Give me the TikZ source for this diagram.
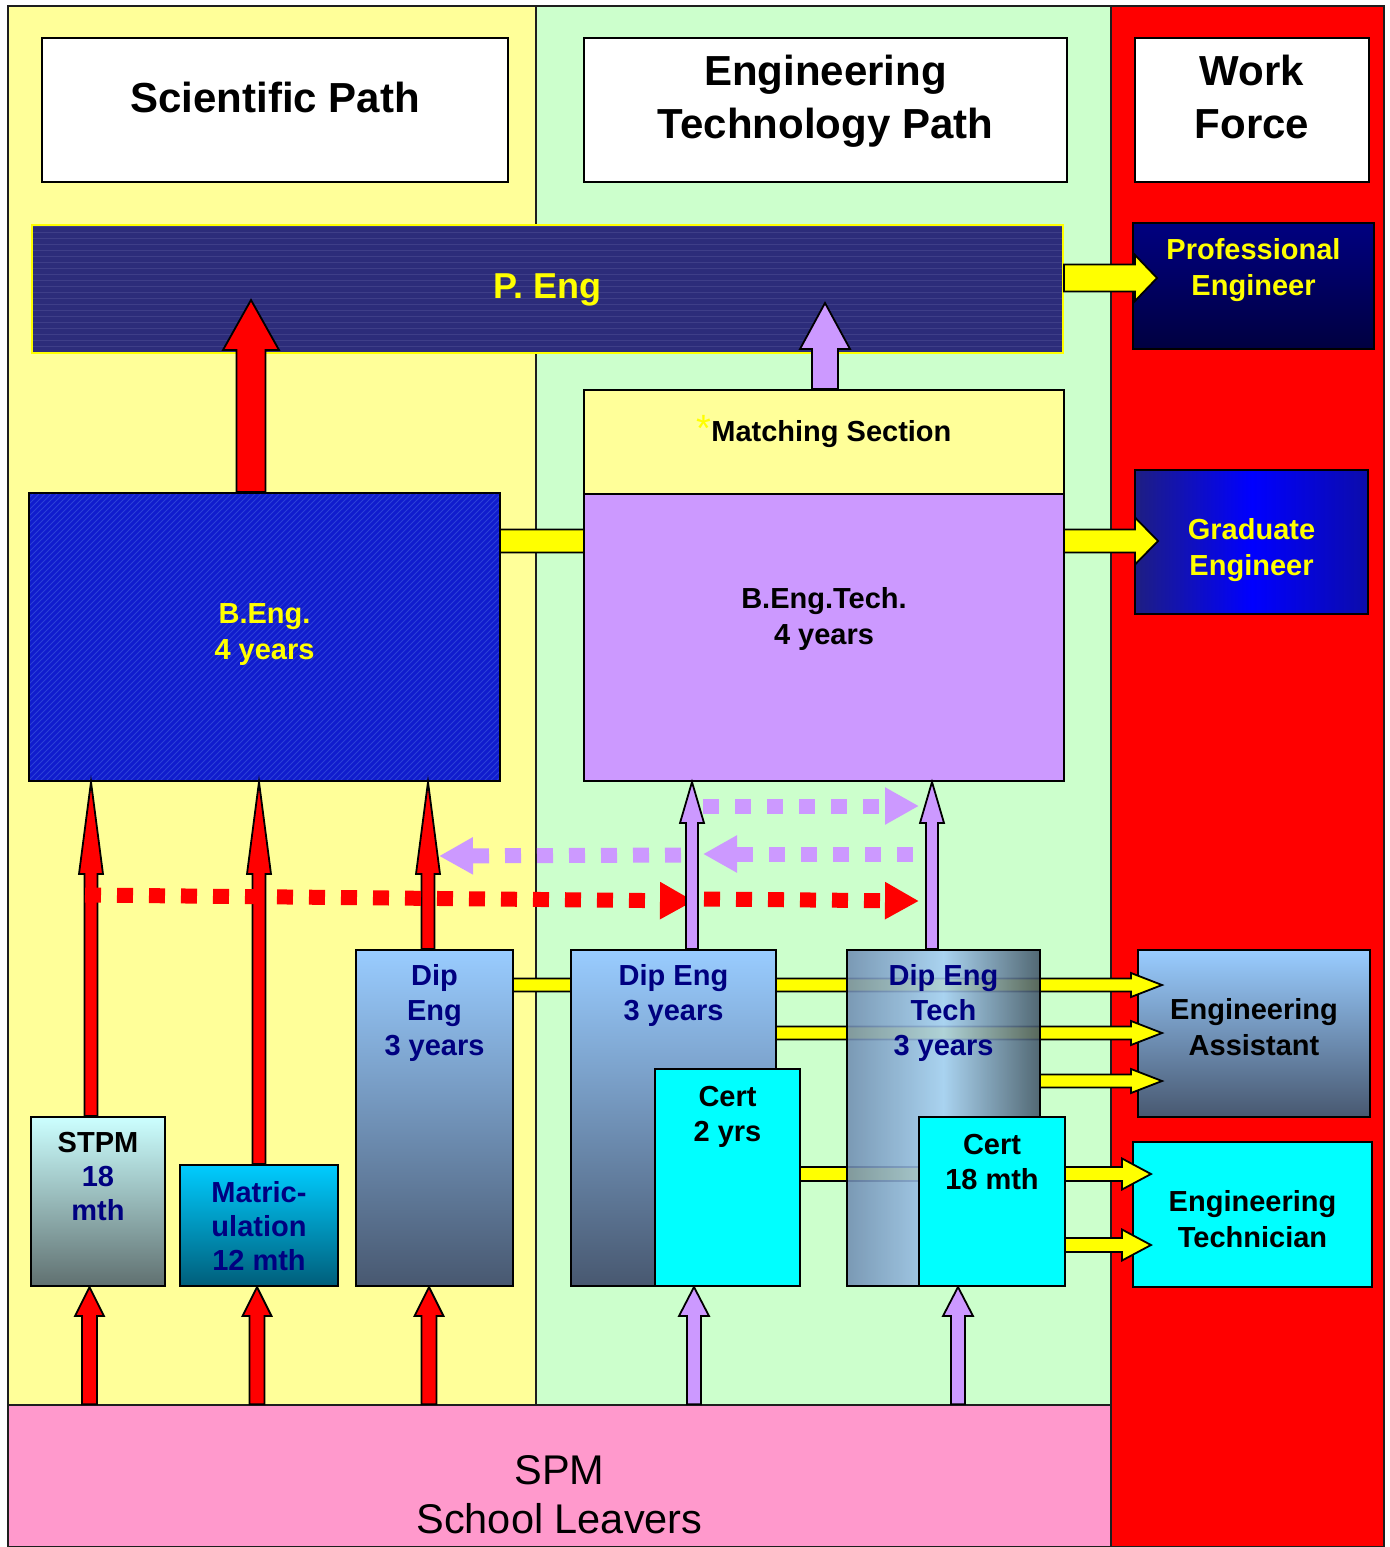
\documentclass[tikz,border=0pt]{standalone}
\usepackage{fontspec}
\setmainfont{Liberation Sans}
\usetikzlibrary{positioning,fit,calc,arrows.meta,patterns}

\definecolor{sciyellow}{RGB}{255,255,153}
\definecolor{techgreen}{RGB}{204,255,204}
\definecolor{workred}{RGB}{255,0,0}
\definecolor{spmpink}{RGB}{255,153,204}
\definecolor{lavender}{RGB}{204,153,255}
\definecolor{pengblue}{RGB}{44,44,122}
\definecolor{pengline}{RGB}{62,62,136}
\definecolor{bengblue}{RGB}{16,28,205}
\definecolor{benghatch}{RGB}{44,64,215}
\definecolor{navytext}{RGB}{0,0,128}
\definecolor{diptop}{RGB}{153,204,255}
\definecolor{dipbot}{RGB}{72,88,112}
\definecolor{certcyan}{RGB}{0,255,255}
\definecolor{arryellow}{RGB}{255,255,0}
\definecolor{outline}{RGB}{30,30,30}
\definecolor{gradedge}{RGB}{30,30,130}

\tikzset{
  colline/.style={draw=outline, line width=0.75pt},
  box/.style={draw=black, line width=1pt, inner sep=0pt},
  title/.style={font=\fontsize{21}{26.5}\selectfont\bfseries, align=center, inner sep=0pt},
  lbl/.style={font=\fontsize{14.5}{18}\selectfont\bfseries, align=center, inner sep=0pt},
  toplbl/.style={font=\fontsize{14.5}{17.5}\selectfont\bfseries, align=center, inner sep=0pt},
  yarr/.style={draw=black, line width=0.9pt, fill=arryellow},
  rarr/.style={draw=black, line width=0.9pt, fill=red},
  parr/.style={draw=black, line width=0.9pt, fill=lavender},
  dotarr/.style={line width=7.5pt, dash pattern=on 8pt off 8pt, -{Triangle[length=17pt,width=17.5pt]}},
}

% block arrow pointing up: style, foot, tip, half shaft, half head, head length (pt)
\newcommand{\uparrblk}[6]{%
  \draw[#1] let \p1=#2, \p2=#3 in
    (\x1-#4pt,\y1) -- (\x1-#4pt,\y2-#6pt) -- (\x1-#5pt,\y2-#6pt) -- (\x1,\y2)
    -- (\x1+#5pt,\y2-#6pt) -- (\x1+#4pt,\y2-#6pt) -- (\x1+#4pt,\y1) -- cycle;}
% block arrow pointing right: style, foot, tip, half shaft, half head, head length (pt)
\newcommand{\rightarrblk}[6]{%
  \draw[#1] let \p1=#2, \p2=#3 in
    (\x1,\y1+#4pt) -- (\x2-#6pt,\y1+#4pt) -- (\x2-#6pt,\y1+#5pt) -- (\x2,\y1)
    -- (\x2-#6pt,\y1-#5pt) -- (\x2-#6pt,\y1-#4pt) -- (\x1,\y1-#4pt) -- cycle;}

\begin{document}
\begin{tikzpicture}[x=0.5pt,y=-0.5pt]
\useasboundingbox[fill=white] (0,0) rectangle (1389,1547);

%Shape: Rectangle [columns]
\draw[colline, fill=sciyellow] (8,6) rectangle (536,1405);
\draw[colline, fill=techgreen] (536,6) rectangle (1111,1405);
\draw[colline, fill=workred] (1111,6) rectangle (1384,1547);
\node[colline, fill=spmpink, inner sep=0pt, fit={(8,1405) (1111,1547)}] (spm) {};

%Shape: Rectangle [headers]
\node[box, fill=white, fit={(42,38) (508,182)}] (scipath) {};
\node[box, fill=white, fit={(584,38) (1067,182)}] (techpath) {};
\node[box, fill=white, fit={(1135,38) (1369,182)}] (workforce) {};

%Shape: Rectangle [top row]
\node[draw=arryellow, line width=1pt, inner sep=0pt, preaction={fill=pengblue},
  pattern=horizontal lines, pattern color=pengline, fit={(32,225) (1063,353)}] (peng) {};
\node[box, top color=navytext, bottom color={rgb,255:red,0;green,0;blue,64},
  fit={(1133,223) (1374,349)}] (prof) {};
\node[box, left color=gradedge, right color={rgb,255:red,12;green,12;blue,170}, middle color=blue,
  fit={(1135,470) (1368,614)}] (grad) {};
\node[box, top color=diptop, bottom color=dipbot, fit={(1138,950) (1370,1117)}] (assist) {};
\node[box, fill=certcyan, fit={(1133,1142) (1372,1287)}] (technician) {};

%Straight Lines [yellow connectors, behind the boxes]
\rightarrblk{yarr}{($(peng.east)+(0,-11)$)}{($(prof.west)+(25,0)$)}{6.75}{11.5}{11}
\coordinate (beng-ne) at (500,493);
\rightarrblk{yarr}{($(beng-ne)+(0,48)$)}{($(grad.west)+(24,0)$)}{5.75}{11.75}{11.5}
\coordinate (dipA-ne) at (513,950);
\coordinate (dipB-ne) at (776,950);
\coordinate (dipT-ne) at (1040,950);
\coordinate (certA-ne) at (800,1069);
\coordinate (certB-ne) at (1065,1117);
\rightarrblk{yarr}{($(dipA-ne)+(0,35)$)}{($(assist.west)+(25,0)$)}{3.25}{6}{15.5}
\rightarrblk{yarr}{($(dipB-ne)+(0,83)$)}{($(assist.west)+(25,0)$)}{3.25}{6}{15.5}
\rightarrblk{yarr}{($(dipT-ne)+(0,131)$)}{($(assist.west)+(25,0)$)}{3.25}{6}{15.5}
\rightarrblk{yarr}{($(certA-ne)+(0,105)$)}{($(technician.west)+(19,0)$)}{3.5}{7.75}{14.5}
\rightarrblk{yarr}{($(certB-ne)+(0,128)$)}{($(technician.west)+(19,0)$)}{3.5}{7.75}{14.5}

%Shape: Rectangle [degrees]
\node[box, preaction={fill=bengblue}, pattern=north east lines, pattern color=benghatch,
  fit={(29,493) (500,781)}] (beng) {};
\node[box, fill=sciyellow, fit={(584,390) (1064,494)}] (match) {};
\node[box, fill=lavender, fit={(584,494) (1064,781)}] (bengtech) {};

%Shape: Rectangle [entry level]
\node[box, top color={rgb,255:red,204;green,255;blue,255}, bottom color={rgb,255:red,96;green,112;blue,112},
  fit={(31,1117) (165,1286)}] (stpm) {};
\node[box, top color={rgb,255:red,0;green,204;blue,255}, bottom color={rgb,255:red,0;green,94;blue,122},
  fit={(180,1165) (338,1286)}] (matric) {};
\node[box, top color=diptop, bottom color=dipbot, fit={(356,950) (513,1286)}] (dipA) {};
\node[box, top color=diptop, bottom color=dipbot, fit={(571,950) (776,1286)}] (dipB) {};
\node[box, fill=certcyan, fit={(655,1069) (800,1286)}] (certA) {};
\node[box, fill opacity=0.88, left color={rgb,255:red,112;green,140;blue,178},
  right color={rgb,255:red,66;green,84;blue,104}, middle color={rgb,255:red,165;green,205;blue,245},
  fit={(847,950) (1040,1286)}] (dipTech) {};
\node[box, fill=certcyan, fit={(919,1117) (1065,1286)}] (certB) {};

%Straight Lines [up arrows]
\uparrblk{rarr}{($(beng.north)+(-13.5,0)$)}{($(peng.south)+(0,-54)$)}{7.25}{14}{25}
\uparrblk{parr}{($(match.north)+(1,0)$)}{($(peng.south)+(0,-51)$)}{6.5}{12.5}{23}
\uparrblk{rarr}{($(stpm.north)+(-7,0)$)}{(beng.south)}{3.25}{6}{46}
\uparrblk{rarr}{(matric.north)}{(beng.south)}{3.25}{6}{46}
\uparrblk{rarr}{($(dipA.north)+(-6.5,0)$)}{(beng.south)}{3.25}{6}{46}
\uparrblk{rarr}{($(stpm.south |- spm.north)+(-8.5,0)$)}{(stpm.south)}{3.75}{7.25}{14.5}
\uparrblk{rarr}{($(matric.south |- spm.north)+(-2,0)$)}{(matric.south)}{3.75}{7.25}{14.5}
\uparrblk{rarr}{($(dipA.south |- spm.north)+(-5.5,0)$)}{(dipA.south)}{3.75}{7.25}{14.5}

%Straight Lines [dotted transfers]
\coordinate (rd1) at (85,895);
\coordinate (rd2) at (694,901);
\coordinate (rd3) at (704,899);
\coordinate (rd4) at (919,901);
\coordinate (pu1) at (703,806);
\coordinate (pu2) at (919,806);
\coordinate (pm1) at (913,854);
\coordinate (pm2) at (703,854);
\coordinate (pm3) at (681,855);
\coordinate (pm4) at (439,856);
\draw[dotarr, red] (rd1) -- (rd2);
\draw[dotarr, red] (rd3) -- (rd4);
\draw[dotarr, lavender] (pu1) -- (pu2);
\draw[dotarr, lavender] (pm1) -- (pm2);
\draw[dotarr, lavender] (pm3) -- (pm4);

\uparrblk{parr}{($(dipB.north)+(18.5,0)$)}{(bengtech.south)}{3}{6}{20.5}
\uparrblk{parr}{($(dipTech.north)+(-11.5,0)$)}{(bengtech.south)}{3}{6}{20.5}
\uparrblk{parr}{($(certA.south |- spm.north)+(-33.5,0)$)}{(certA.south)}{3.5}{7.5}{14.5}
\uparrblk{parr}{($(certB.south |- spm.north)+(-34,0)$)}{(certB.south)}{3.5}{7.5}{14.5}

% Text Node
\node[title] (scipath-t) at ($(scipath.north)+(0,60)$) {Scientific Path};
\node[title] (techpath-t) at ($(techpath.north)+(0,64)$) {Engineering\\Technology Path};
\node[title] (workforce-t) at ($(workforce.north)+(0,59.5)$) {Work\\Force};
\node[font=\fontsize{18}{22}\selectfont\bfseries, text=arryellow, inner sep=0pt] (peng-t) at ($(peng.north)+(0,66)$) {P. Eng};
\node[lbl, text=arryellow] (prof-t) at ($(prof.north)+(0,48)$) {Professional\\Engineer};
\node[lbl, text=arryellow] (grad-t) at ($(grad.north)+(0,81)$) {Graduate\\Engineer};
\node[lbl] (match-t) at ($(match.north)+(0,42)$) {{\mdseries\fontsize{19}{19}\selectfont\color{arryellow}*}Matching Section};
\node[lbl] (bengtech-t) at ($(bengtech.north)+(0,126)$) {B.Eng.Tech.\\4 years};
\node[lbl, text=arryellow] (beng-t) at ($(beng.north)+(0,143)$) {B.Eng.\\4 years};
\node[lbl] (assist-t) at ($(assist.north)+(0,78)$) {Engineering\\Assistant};
\node[lbl] (technician-t) at ($(technician.north)+(0,78)$) {Engineering\\Technician};
\node[toplbl, font=\fontsize{14.5}{17}\selectfont\bfseries, below=8pt of stpm.north] (stpm-t) {STPM\\\textcolor{navytext}{18}\\\textcolor{navytext}{mth}};
\node[toplbl, font=\fontsize{14.5}{17}\selectfont\bfseries, text=navytext, below=8.5pt of matric.north] (matric-t) {Matric-\\ulation\\12 mth};
\node[toplbl, text=navytext, below=7.5pt of dipA.north] (dipA-t) {Dip\\Eng\\3 years};
\node[toplbl, text=navytext, below=7.5pt of dipB.north] (dipB-t) {Dip Eng\\3 years};
\node[toplbl, below=9pt of certA.north] (certA-t) {Cert\\2 yrs};
\node[toplbl, text=navytext, below=7.5pt of dipTech.north] (dipTech-t) {Dip Eng\\Tech\\3 years};
\node[toplbl, below=9pt of certB.north] (certB-t) {Cert\\18 mth};
\node[font=\fontsize{20.75}{24.5}\selectfont, align=center, inner sep=0pt] (spm-t) at ($(spm.north)+(0,90.5)$) {SPM\\School Leavers};

\end{tikzpicture}
\end{document}
